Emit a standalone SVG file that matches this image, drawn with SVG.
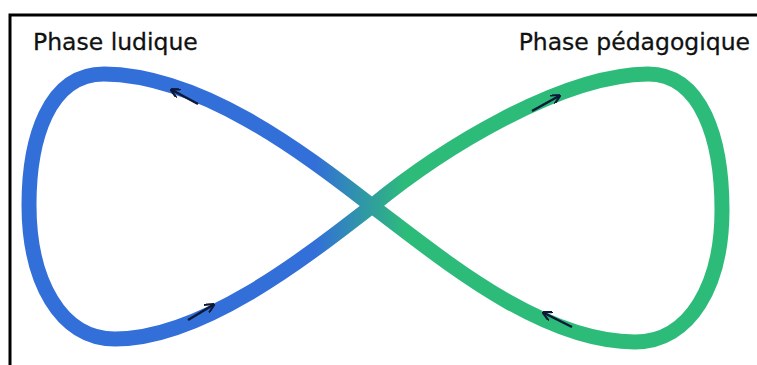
<svg xmlns="http://www.w3.org/2000/svg" width="757" height="365" viewBox="0 0 757 365">
  <defs>
    <linearGradient id="loopGrad" gradientUnits="userSpaceOnUse" x1="315" y1="0" x2="405" y2="0">
      <stop offset="0" stop-color="#336fd8"/>
      <stop offset="1" stop-color="#2dbb7a"/>
    </linearGradient>
    <marker id="head" viewBox="0 0 10 10" refX="2" refY="5" markerWidth="4" markerHeight="4" orient="auto" markerUnits="strokeWidth">
      <path d="M10 0 L0 5 L10 10" fill="none" stroke="#0c1836" stroke-width="2.2"/>
    </marker>
  </defs>
  <style>
    .lbl { font-family: "DejaVu Sans", "Liberation Sans", sans-serif; font-size: 23.5px; fill: #111; stroke: #111; stroke-width: 0.3; }
    .frame { stroke: #000; stroke-width: 3; fill: none; }
    .loop { fill: none; stroke: url(#loopGrad); stroke-width: 15; stroke-linejoin: round; }
    .arrow { stroke: #0c1836; stroke-width: 2.4; fill: none; marker-start: url(#head); }
  </style>
  <rect width="757" height="365" fill="#ffffff"/>
  <g id="frame">
    <path class="frame" d="M10 365 V15 H757"/>
  </g>
  <g id="label-ludique">
    <text class="lbl" x="33" y="50">Phase ludique</text>
  </g>
  <g id="label-pedagogique">
    <text class="lbl" x="750" y="50" text-anchor="end">Phase pédagogique</text>
  </g>
  <g id="loop">
    <path class="loop" d="M372 206 C300 150 200 75 104 74 C48 74 29 140 29 205 C29 280 60 339 115 339 C200 339 300 262 372 206 C440 150 560 75 648 74 C702 74 722 140 722 210 C722 285 690 342 635 342 C540 342 440 257 372 206 Z"/>
  </g>
  <g id="connectors">
    <path class="arrow" d="M172 90 L198 104"/>
    <path class="arrow" d="M559 96 L532 111"/>
    <path class="arrow" d="M213 305 L188 320"/>
    <path class="arrow" d="M544 313 L572 327"/>
  </g>
</svg>
